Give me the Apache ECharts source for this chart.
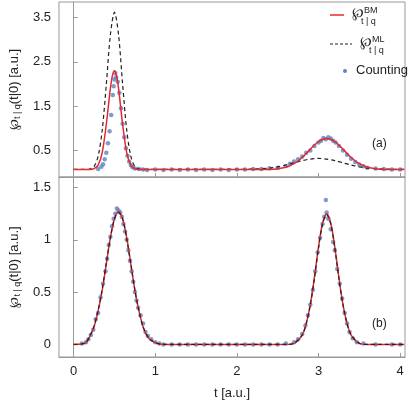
<!DOCTYPE html>
<html><head><meta charset="utf-8">
<script src="https://cdn.jsdelivr.net/npm/echarts@6/dist/echarts.min.js"></script>
<style>html,body{margin:0;padding:0;background:#fff}#c{width:409px;height:404px}</style>
</head><body><div id="c"></div>
<script>
// panel (a): [t, value]
var bmTop = [[0,0.07],[0.2,0.07],[0.25,0.09],[0.3,0.17],[0.35,0.45],[0.4,1.09],[0.45,1.9],[0.475,2.19],[0.5,2.3],[0.525,2.19],[0.55,1.9],[0.6,1.09],[0.65,0.45],[0.7,0.17],[0.75,0.09],[0.8,0.07],[1.0,0.07],[2.0,0.07],[2.4,0.07],[2.6,0.12],[2.7,0.2],[2.8,0.34],[2.9,0.53],[3.0,0.7],[3.1,0.77],[3.2,0.7],[3.3,0.53],[3.4,0.34],[3.5,0.2],[3.6,0.12],[3.8,0.07],[4.05,0.07]];
var mlTop = [[0,0.07],[0.15,0.07],[0.2,0.08],[0.25,0.14],[0.3,0.37],[0.35,0.96],[0.4,1.99],[0.45,3.11],[0.5,3.62],[0.55,3.11],[0.6,1.99],[0.65,0.96],[0.7,0.37],[0.75,0.14],[0.8,0.08],[1.0,0.07],[2.0,0.07],[2.2,0.08],[2.4,0.1],[2.5,0.13],[2.6,0.17],[2.7,0.22],[2.8,0.27],[2.9,0.305],[3.0,0.32],[3.1,0.305],[3.2,0.27],[3.3,0.22],[3.4,0.17],[3.5,0.13],[3.6,0.1],[3.8,0.08],[4.05,0.07]];
var dotTop = [[0.3,0.08],[0.34,0.13],[0.36,0.19],[0.38,0.3],[0.4,0.45],[0.42,0.66],[0.44,0.93],[0.46,1.3],[0.48,1.75],[0.49,1.95],[0.5,2.1],[0.51,2.25],[0.52,2.15],[0.54,2.05],[0.56,1.8],[0.58,1.45],[0.6,1.1],[0.62,0.8],[0.64,0.55],[0.66,0.38],[0.68,0.25],[0.7,0.17],[0.72,0.12],[0.75,0.09],[0.8,0.08],[0.85,0.07],[0.9,0.06],[1.0,0.07],[1.1,0.06],[1.2,0.07],[1.3,0.06],[1.4,0.07],[1.5,0.06],[1.6,0.07],[1.7,0.06],[1.8,0.07],[1.9,0.06],[2.0,0.07],[2.1,0.07],[2.2,0.08],[2.3,0.08],[2.4,0.1],[2.5,0.11],[2.6,0.15],[2.65,0.2],[2.7,0.25],[2.75,0.3],[2.8,0.36],[2.85,0.45],[2.9,0.5],[2.95,0.6],[3.0,0.68],[3.03,0.72],[3.06,0.78],[3.09,0.75],[3.12,0.8],[3.15,0.77],[3.18,0.72],[3.21,0.68],[3.25,0.6],[3.3,0.5],[3.35,0.4],[3.4,0.31],[3.45,0.24],[3.5,0.18],[3.55,0.14],[3.6,0.11],[3.7,0.09],[3.8,0.08],[3.9,0.07],[4.0,0.07]];
// panel (b)
var bmBot = [[0,0],[0.1,0.004],[0.15,0.015],[0.2,0.08],[0.25,0.17],[0.3,0.32],[0.35,0.52],[0.4,0.77],[0.45,1.02],[0.5,1.2],[0.55,1.27],[0.6,1.2],[0.65,1.02],[0.7,0.77],[0.75,0.52],[0.8,0.32],[0.85,0.17],[0.9,0.08],[0.95,0.04],[1.05,0.004],[1.2,0],[2.6,0],[2.7,0.01],[2.8,0.09],[2.85,0.2],[2.9,0.38],[2.95,0.64],[3.0,0.93],[3.05,1.16],[3.1,1.25],[3.15,1.16],[3.2,0.93],[3.25,0.64],[3.3,0.38],[3.35,0.2],[3.4,0.09],[3.5,0.01],[3.6,0],[4.05,0]];
var mlBot = [[0,0],[0.1,0.005],[0.15,0.018],[0.2,0.085],[0.25,0.175],[0.3,0.33],[0.35,0.53],[0.4,0.78],[0.45,1.02],[0.5,1.2],[0.55,1.26],[0.6,1.2],[0.65,1.01],[0.7,0.77],[0.75,0.52],[0.8,0.32],[0.85,0.17],[0.9,0.085],[0.95,0.04],[1.05,0.005],[1.2,0],[2.6,0],[2.7,0.012],[2.8,0.09],[2.85,0.2],[2.9,0.38],[2.95,0.63],[3.0,0.92],[3.05,1.15],[3.1,1.24],[3.15,1.15],[3.2,0.92],[3.25,0.63],[3.3,0.38],[3.35,0.2],[3.4,0.09],[3.5,0.012],[3.6,0],[4.05,0]];
var dotBot = [[0.1,0.01],[0.15,0.02],[0.18,0.05],[0.21,0.09],[0.24,0.14],[0.27,0.24],[0.3,0.3],[0.33,0.45],[0.36,0.58],[0.39,0.7],[0.41,0.82],[0.43,0.95],[0.45,1.03],[0.47,1.13],[0.49,1.2],[0.51,1.25],[0.53,1.3],[0.55,1.28],[0.57,1.26],[0.59,1.22],[0.61,1.15],[0.63,1.08],[0.65,1.0],[0.67,0.9],[0.69,0.8],[0.71,0.7],[0.73,0.6],[0.75,0.5],[0.77,0.42],[0.79,0.35],[0.82,0.28],[0.85,0.2],[0.88,0.12],[0.91,0.08],[0.95,0.05],[1.0,0.02],[1.05,0.01],[1.1,0.0],[1.2,0.0],[1.3,0.0],[1.4,0.0],[1.5,0.0],[1.6,0.0],[1.7,0.0],[1.8,0.0],[1.9,0.0],[2.0,0.0],[2.1,0.0],[2.2,0.0],[2.3,0.0],[2.4,0.0],[2.5,0.0],[2.6,0.01],[2.7,0.02],[2.75,0.05],[2.8,0.1],[2.84,0.18],[2.87,0.28],[2.9,0.38],[2.93,0.52],[2.96,0.7],[2.99,0.88],[3.02,1.02],[3.05,1.15],[3.07,1.22],[3.09,1.38],[3.1,1.26],[3.12,1.2],[3.15,1.1],[3.18,0.98],[3.2,0.9],[3.23,0.72],[3.26,0.58],[3.29,0.44],[3.32,0.3],[3.35,0.2],[3.38,0.12],[3.42,0.06],[3.47,0.02],[3.55,0.01],[3.7,0.0],[3.9,0.0],[4.0,0.0]];
var xTicks = [0,1,2,3,4];
var yTicksTop = [0.5,1.5,2.5,3.5];
var yTicksBot = [0,0.5,1,1.5];

var myChart = echarts.init(document.getElementById('c'));
var font = 'Liberation Sans';
var yName = '{a|℘}{s|t | q}{a|(t|0) [a.u.]}';
var nameRich = {a:{fontSize:13,fontFamily:font,color:'#222'},s:{fontSize:9,fontFamily:font,color:'#222',verticalAlign:'bottom',padding:[6,0,0,0]}};
function xAx(idx, labels){
	return {type:'value',gridIndex:idx,min:-0.18,max:4.06,
		axisLine:{onZero:false,lineStyle:{color:'#999'}},splitLine:{show:false},
		axisTick:{customValues:xTicks,inside:true,length:4,lineStyle:{color:'#999'}},
		axisLabel:{show:labels,customValues:xTicks,color:'#222',fontSize:13,fontFamily:font},
		name:labels?'t [a.u.]':'',nameLocation:'middle',nameGap:30,nameTextStyle:{fontSize:13,fontFamily:font,color:'#222'}};
}
function yAx(idx,min,max,ticks){
	return {type:'value',gridIndex:idx,min:min,max:max,
		axisLine:{lineStyle:{color:'#999'}},splitLine:{show:false},
		axisTick:{customValues:ticks,inside:true,length:4,lineStyle:{color:'#999'}},
		axisLabel:{customValues:ticks,color:'#222',fontSize:13,fontFamily:font,formatter:function(v){return String(v);}},
		name:yName,nameLocation:'middle',nameGap:30,nameRotate:90,nameTextStyle:{rich:nameRich}};
}
var option = {
	animation:false,
	grid:[{left:48,right:4,top:2,height:175,show:true,borderColor:'#999',borderWidth:1},
		{left:48,right:4,top:177,height:180,show:true,borderColor:'#999',borderWidth:1}],
	xAxis:[xAx(0,false),xAx(1,true)],
	yAxis:[yAx(0,-0.1,3.85,yTicksTop),yAx(1,-0.12,1.6,yTicksBot)],
	series:[
		{type:'line',xAxisIndex:0,yAxisIndex:0,data:mlTop,smooth:0.3,showSymbol:false,lineStyle:{color:'#222',width:1.2,type:[4,3]}},
		{type:'line',xAxisIndex:0,yAxisIndex:0,data:bmTop,smooth:0.3,showSymbol:false,lineStyle:{color:'#e8282a',width:1.5}},
		{type:'scatter',xAxisIndex:0,yAxisIndex:0,data:dotTop,symbolSize:4.5,itemStyle:{color:'#5b82c4'}},
		{type:'line',xAxisIndex:1,yAxisIndex:1,data:bmBot,smooth:0.3,showSymbol:false,lineStyle:{color:'#e8282a',width:1.5}},
		{type:'line',xAxisIndex:1,yAxisIndex:1,data:mlBot,smooth:0.3,showSymbol:false,lineStyle:{color:'#222',width:1.2,type:[4,3]}},
		{type:'scatter',xAxisIndex:1,yAxisIndex:1,data:dotBot,symbolSize:4.5,itemStyle:{color:'#5b82c4'}}
	],
	graphic:[
		{type:'line',shape:{x1:330,y1:15,x2:344,y2:15},style:{stroke:'#e8282a',lineWidth:1.5}},
		{type:'text',left:352,top:6,style:{text:'{a|℘}{u|BM}',rich:{a:{fontSize:14,fontFamily:font,fill:'#222'},u:{fontSize:9,fontFamily:font,fill:'#222',verticalAlign:'top'}}}},
		{type:'text',left:361,top:17,style:{text:'t | q',fontSize:9,fontFamily:font,fill:'#222'}},
		{type:'line',shape:{x1:330,y1:44,x2:352,y2:44},style:{stroke:'#222',lineWidth:1,lineDash:[3,2]}},
		{type:'text',left:360,top:35,style:{text:'{a|℘}{u|ML}',rich:{a:{fontSize:14,fontFamily:font,fill:'#222'},u:{fontSize:9,fontFamily:font,fill:'#222',verticalAlign:'top'}}}},
		{type:'text',left:369,top:46,style:{text:'t | q',fontSize:9,fontFamily:font,fill:'#222'}},
		{type:'circle',shape:{cx:345,cy:71,r:2},style:{fill:'#5b82c4'}},
		{type:'text',left:356,top:64,style:{text:'Counting',fontSize:13,fontFamily:font,fill:'#222'}},
		{type:'text',left:372,top:138,style:{text:'(a)',fontSize:12,fontFamily:font,fill:'#222'}},
		{type:'text',left:372,top:318,style:{text:'(b)',fontSize:12,fontFamily:font,fill:'#222'}}
	]
};
myChart.setOption(option);
</script></body></html>
